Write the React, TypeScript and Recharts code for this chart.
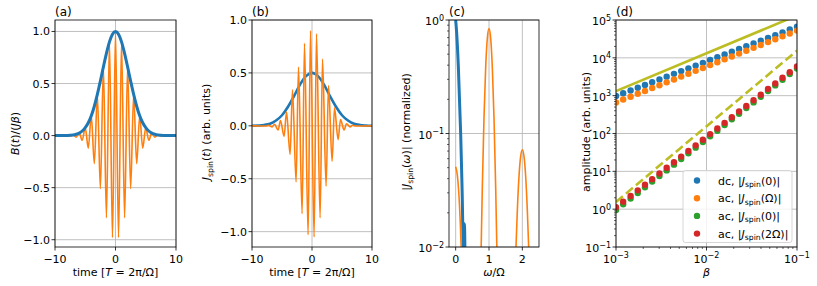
import React from 'react';
import { ComposedChart, Line, Scatter, XAxis, YAxis, CartesianGrid } from 'recharts';

const W = 817;
const H = 286;
const FONT = '"DejaVu Sans", "Liberation Sans", sans-serif';

const BLUE = '#1f77b4';
const ORANGE = '#ff7f0e';
const GREEN = '#2ca02c';
const RED = '#d62728';
const OLIVE = '#bcbd22';
const GRID = '#b0b0b0';

// shared plot geometry
const TOP = 20;
const BOTTOM = 247;
const YW = 50;
const PAD_R = 15;
const XH = 25;
const TICK = 3.5;
const GAP = 1.5;

// (a) B(t)/(J beta): envelope and ac field
const aEnvT = [-10, -9, -8, -7, -6.5, -6, -5.5, -5, -4.5, -4, -3.5, -3, -2.5, -2, -1.5, -1, -0.5, 0, 0.5, 1, 1.5, 2, 2.5, 3, 3.5, 4, 4.5, 5, 5.5, 6, 6.5, 7, 8, 9, 10];
const aEnvV = [0, 0.0002, 0.001, 0.006, 0.013, 0.024, 0.044, 0.076, 0.123, 0.19, 0.282, 0.395, 0.524, 0.66, 0.79, 0.9, 0.974, 1, 0.974, 0.9, 0.79, 0.66, 0.524, 0.395, 0.282, 0.19, 0.123, 0.076, 0.044, 0.024, 0.013, 0.006, 0.001, 0.0002, 0];
const aAcT = [-10, -8, -7.5, -7, -6.5, -6, -5.5, -5, -4.5, -4, -3.5, -3, -2.5, -2, -1.5, -1, -0.5, 0, 0.5, 1, 1.5, 2, 2.5, 3, 3.5, 4, 4.5, 5, 5.5, 6, 6.5, 7, 7.5, 8, 10];
const aAcV = [0, 0, -0.003, 0.006, -0.015, 0.024, -0.045, 0.076, -0.12, 0.19, -0.27, 0.395, -0.51, 0.66, -0.79, 0.9, -0.98, 1, -0.98, 0.9, -0.79, 0.66, -0.51, 0.395, -0.27, 0.19, -0.12, 0.076, -0.045, 0.024, -0.015, 0.006, -0.003, 0, 0];
const aTicksX = [-10, 0, 10];
const aTicksY = [-1, -0.5, 0, 0.5, 1];

// (b) J_spin(t)
const bDcT = [-10, -9, -8, -7, -6, -5, -4, -3, -2, -1, 0, 1, 2, 3, 4, 5, 6, 7, 8, 9, 10];
const bDcV = [0, 0.003, 0.008, 0.02, 0.05, 0.1, 0.18, 0.28, 0.39, 0.47, 0.5, 0.47, 0.39, 0.28, 0.18, 0.1, 0.05, 0.02, 0.008, 0.003, 0];
const bAcT = [-10, -7.65, -7.25, -6.65, -6.25, -5.65, -5.25, -4.65, -4.25, -3.65, -3.25, -2.65, -2.25, -1.65, -1.25, -0.65, -0.25, 0.35, 0.75, 1.35, 1.75, 2.35, 2.75, 3.35, 3.75, 4.35, 4.75, 5.35, 5.75, 6.35, 6.75, 7.35, 10];
const bAcV = [0, -0.002, 0.004, -0.01, 0.015, -0.04, 0.05, -0.1, 0.13, -0.27, 0.34, -0.53, 0.555, -0.83, 0.78, -1.03, 0.9, -1.05, 0.87, -0.87, 0.63, -0.57, 0.38, -0.335, 0.17, -0.13, 0.06, -0.04, 0.02, -0.01, 0.005, -0.002, 0];

// (c) |J_spin(omega)| normalized
const cDcW = [0, 0.03, 0.08, 0.15, 0.19, 0.22, 0.235, 0.25, 0.262, 0.275, 0.29];
const cDcV = [1, 0.77, 0.39, 0.1, 0.035, 0.012, 0.005, 0.008, 0.016, 0.011, 0.003];
const cAcW = [0, 0.05, 0.1, 0.14, 0.17, 0.2, 0.5, 0.74, 0.765, 0.8, 0.85, 0.9, 0.95, 1, 1.05, 1.1, 1.15, 1.2, 1.235, 1.26, 1.5, 1.78, 1.81, 1.85, 1.9, 1.95, 2, 2.05, 2.1, 2.15, 2.19, 2.22, 2.5];
const cAcV = [0.051, 0.043, 0.028, 0.016, 0.009, 0.004, 0.001, 0.0037, 0.01, 0.034, 0.138, 0.38, 0.69, 0.84, 0.69, 0.38, 0.138, 0.034, 0.01, 0.0037, 0.001, 0.005, 0.01, 0.021, 0.042, 0.063, 0.072, 0.063, 0.042, 0.021, 0.01, 0.005, 0.001];
const cTicksX = [0, 1, 2];
const cTicksY = [0.01, 0.1, 1];

// (d) amplitudes vs beta
const dBeta = [0.001, 0.0012, 0.00145, 0.00174, 0.00209, 0.00251, 0.00302, 0.00363, 0.00437, 0.00525, 0.00631, 0.00759, 0.00912, 0.01096, 0.01318, 0.01585, 0.01905, 0.02291, 0.02754, 0.03311, 0.03981, 0.04786, 0.05754, 0.06918, 0.08318, 0.1];
const dDcJ0 = [980, 1160, 1370, 1620, 1920, 2270, 2690, 3180, 3770, 4460, 5270, 6240, 7380, 8750, 10350, 12240, 14490, 17140, 20320, 24040, 28440, 33650, 39810, 47210, 55850, 66070];
const dAcJW = [660, 790, 940, 1120, 1330, 1590, 1890, 2250, 2680, 3190, 3800, 4530, 5400, 6430, 7660, 9120, 10860, 12940, 15420, 18370, 21880, 26060, 31050, 36980, 44060, 52480];
const dAcJ0 = [0.95, 1.35, 1.9, 2.68, 3.79, 5.35, 7.55, 10.6, 15, 21.2, 29.9, 42.3, 59.6, 84.1, 118.6, 167.5, 236.6, 333, 471, 664, 938, 1324, 1866, 2636, 3715, 5248];
const dAcJ2W = [1.12, 1.58, 2.23, 3.14, 4.42, 6.22, 8.77, 12.4, 17.4, 24.5, 34.5, 48.6, 68.5, 96.4, 136, 191, 270, 380, 535, 754, 1062, 1496, 2108, 2967, 4178, 5888];
const dFitB = [0.001, 0.1];
const dFitLin = [1320, 132000];
const dFitQuad = [1.55, 15500];
const dTicksX = [0.001, 0.01, 0.1];
const dTicksY = [0.1, 1, 10, 100, 1000, 10000, 100000];

const xy = (xs: number[], ys: number[]) => xs.map((x, i) => ({ x, y: ys[i] }));
const bv = (ys: number[]) => dBeta.map((b, i) => ({ b, v: ys[i] }));

// unlabeled 2..9 ticks in each decade
const minors = (lo: number, hi: number) => {
  const out: number[] = [];
  for (let e = lo; e < hi; e++) for (let m = 2; m <= 9; m++) out.push(m * Math.pow(10, e));
  return out;
};

const fmtInt = (v: number) => (v < 0 ? `−${-v}` : `${v}`);
const fmt1 = (v: number) => (v < 0 ? '−' : '') + Math.abs(v).toFixed(1);
const fmtPow = (v: number) => {
  const e = Math.round(Math.log10(v));
  return (
    <>
      <tspan>10</tspan>
      <tspan fontSize={8} dy={-4.5}>{e < 0 ? `−${-e}` : `${e}`}</tspan>
    </>
  );
};

function tickFn(side: 'left' | 'bottom', majors: number[], label: (v: number) => React.ReactNode, isLog = false) {
  return (p: any) => {
    const v = Number(p.payload?.value);
    const major = majors.some((m) => Math.abs(m - v) <= Math.abs(m) * 1e-6 + 1e-12);
    const len = major ? TICK : 2;
    const sw = major ? 0.8 : 0.6;
    if (side === 'left') {
      const ax = p.x + GAP + TICK;
      return (
        <g>
          <line x1={ax - len} x2={ax} y1={p.y} y2={p.y} stroke="#000" strokeWidth={sw} />
          {major && (
            <text x={p.x} y={p.y + (isLog ? 5 : 4)} textAnchor="end" fontSize={11} fontFamily={FONT} fill="#000">
              {label(v)}
            </text>
          )}
        </g>
      );
    }
    const ay = p.y - GAP - TICK;
    return (
      <g>
        <line x1={p.x} x2={p.x} y1={ay} y2={ay + len} stroke="#000" strokeWidth={sw} />
        {major && (
          <text x={p.x} y={p.y + 10.5} textAnchor="middle" fontSize={11} fontFamily={FONT} fill="#000">
            {label(v)}
          </text>
        )}
      </g>
    );
  };
}

const axisCommon = {
  tickSize: TICK,
  tickMargin: GAP,
  tickLine: false,
  axisLine: false,
  interval: 0 as const,
  allowDataOverflow: true,
};

const lineCommon = {
  dot: false,
  activeDot: false,
  isAnimationActive: false,
};

const boxes = [
  { x0: 55, x1: 176 },
  { x0: 252, x1: 372 },
  { x0: 449, x1: 539 },
  { x0: 616, x1: 797 },
];

function frame(i: number) {
  const { x0, x1 } = boxes[i];
  return {
    style: { position: 'absolute' as const, left: x0 - YW, top: 0 },
    width: x1 - x0 + YW + PAD_R,
    margin: { top: TOP, right: PAD_R, bottom: H - BOTTOM - XH, left: 0 },
  };
}

const legendRows = [
  { color: BLUE, head: 'dc', arg: '0' },
  { color: ORANGE, head: 'ac', arg: 'Ω' },
  { color: GREEN, head: 'ac', arg: '0' },
  { color: RED, head: 'ac', arg: '2Ω' },
];

const dot = (color: string) => (p: any) => <circle cx={p.cx} cy={p.cy} r={3.2} fill={color} />;

export default function App() {
  const fa = frame(0);
  const fb = frame(1);
  const fc = frame(2);
  const fd = frame(3);
  return (
    <div style={{ position: 'absolute', left: 0, top: 0, width: W, height: H, background: '#fff', fontFamily: FONT }}>
      {/* (a) */}
      <div style={fa.style}>
        <ComposedChart width={fa.width} height={H} margin={fa.margin}>
          <CartesianGrid stroke={GRID} strokeWidth={0.8} horizontalValues={aTicksY} verticalValues={aTicksX} />
          <XAxis type="number" dataKey="x" domain={[-10, 10]} ticks={aTicksX} height={XH} {...axisCommon} tick={tickFn('bottom', aTicksX, fmtInt)} />
          <YAxis type="number" domain={[-1.07, 1.11]} ticks={aTicksY} width={YW} {...axisCommon} tick={tickFn('left', aTicksY, fmt1)} />
          <Line data={xy(aAcT, aAcV)} dataKey="y" type="monotone" stroke={ORANGE} strokeWidth={1.6} {...lineCommon} />
          <Line data={xy(aEnvT, aEnvV)} dataKey="y" type="monotone" stroke={BLUE} strokeWidth={3} {...lineCommon} />
        </ComposedChart>
      </div>

      {/* (b) */}
      <div style={fb.style}>
        <ComposedChart width={fb.width} height={H} margin={fb.margin}>
          <CartesianGrid stroke={GRID} strokeWidth={0.8} horizontalValues={aTicksY} verticalValues={aTicksX} />
          <XAxis type="number" dataKey="x" domain={[-10, 10]} ticks={aTicksX} height={XH} {...axisCommon} tick={tickFn('bottom', aTicksX, fmtInt)} />
          <YAxis type="number" domain={[-1.145, 1.0]} ticks={aTicksY} width={YW} {...axisCommon} tick={tickFn('left', aTicksY, fmt1)} />
          <Line data={xy(bDcT, bDcV)} dataKey="y" type="monotone" stroke={BLUE} strokeWidth={2.6} {...lineCommon} />
          <Line data={xy(bAcT, bAcV)} dataKey="y" type="monotone" stroke={ORANGE} strokeWidth={1.6} {...lineCommon} />
        </ComposedChart>
      </div>

      {/* (c) */}
      <div style={fc.style}>
        <ComposedChart width={fc.width} height={H} margin={fc.margin}>
          <CartesianGrid stroke={GRID} strokeWidth={0.8} horizontalValues={cTicksY} verticalValues={cTicksX} />
          <XAxis type="number" dataKey="x" domain={[-0.2, 2.5]} ticks={cTicksX} height={XH} {...axisCommon} tick={tickFn('bottom', cTicksX, fmtInt)} />
          <YAxis type="number" scale="log" domain={[0.01, 1]} ticks={[...cTicksY, ...minors(-2, 0)]} width={YW} {...axisCommon} tick={tickFn('left', cTicksY, fmtPow, true)} />
          <Line data={xy(cDcW, cDcV)} dataKey="y" type="monotone" stroke={BLUE} strokeWidth={3} {...lineCommon} />
          <Line data={xy(cAcW, cAcV)} dataKey="y" type="monotone" stroke={ORANGE} strokeWidth={1.6} {...lineCommon} />
        </ComposedChart>
      </div>

      {/* (d) */}
      <div style={fd.style}>
        <ComposedChart width={fd.width} height={H} margin={fd.margin}>
          <CartesianGrid stroke={GRID} strokeWidth={0.8} horizontalValues={dTicksY} verticalValues={dTicksX} />
          <XAxis type="number" dataKey="b" scale="log" domain={[0.001, 0.1]} ticks={[...dTicksX, ...minors(-3, -1)]} height={XH} {...axisCommon} tick={tickFn('bottom', dTicksX, fmtPow, true)} />
          <YAxis type="number" dataKey="v" scale="log" domain={[0.1, 100000]} ticks={[...dTicksY, ...minors(-1, 5)]} width={YW} {...axisCommon} tick={tickFn('left', dTicksY, fmtPow, true)} />
          <Line data={dFitB.map((b, i) => ({ b, v: dFitLin[i] }))} dataKey="v" type="linear" stroke={OLIVE} strokeWidth={2.6} {...lineCommon} />
          <Line data={dFitB.map((b, i) => ({ b, v: dFitQuad[i] }))} dataKey="v" type="linear" stroke={OLIVE} strokeWidth={2.6} strokeDasharray="9 4" {...lineCommon} />
          <Scatter data={bv(dDcJ0)} dataKey="v" shape={dot(BLUE)} isAnimationActive={false} />
          <Scatter data={bv(dAcJW)} dataKey="v" shape={dot(ORANGE)} isAnimationActive={false} />
          <Scatter data={bv(dAcJ0)} dataKey="v" shape={dot(GREEN)} isAnimationActive={false} />
          <Scatter data={bv(dAcJ2W)} dataKey="v" shape={dot(RED)} isAnimationActive={false} />
        </ComposedChart>
      </div>

      {/* frames, labels, legend */}
      <svg width={W} height={H} style={{ position: 'absolute', left: 0, top: 0, pointerEvents: 'none' }} fontFamily={FONT} fill="#000">
        {boxes.map((b, i) => (
          <rect key={i} x={b.x0} y={TOP} width={b.x1 - b.x0} height={BOTTOM - TOP} fill="none" stroke="#000" strokeWidth={0.8} />
        ))}

        <text x={55} y={16} fontSize={12}>(a)</text>
        <text x={252} y={16} fontSize={12}>(b)</text>
        <text x={449} y={16} fontSize={12}>(c)</text>
        <text x={616} y={16} fontSize={12}>(d)</text>

        {/* x labels */}
        <text x={115.5} y={275.5} fontSize={11} textAnchor="middle">
          time [<tspan fontStyle="italic">T</tspan> = 2π/Ω]
        </text>
        <text x={312} y={275.5} fontSize={11} textAnchor="middle">
          time [<tspan fontStyle="italic">T</tspan> = 2π/Ω]
        </text>
        <text x={494} y={275.5} fontSize={11} textAnchor="middle">
          <tspan fontStyle="italic">ω</tspan>/Ω
        </text>
        <text x={706.5} y={275.5} fontSize={11} textAnchor="middle" fontStyle="italic">β</text>

        {/* y labels */}
        <text transform="translate(18.5,133.5) rotate(-90)" fontSize={11} textAnchor="middle">
          <tspan fontStyle="italic">B</tspan>(<tspan fontStyle="italic">t</tspan>)/(<tspan fontStyle="italic">Jβ</tspan>)
        </text>
        <text transform="translate(210,132) rotate(-90)" fontSize={11} textAnchor="middle">
          <tspan fontStyle="italic">J</tspan>
          <tspan fontSize={7.7} dy={2.5}>spin</tspan>
          <tspan dy={-2.5}>(</tspan>
          <tspan fontStyle="italic">t</tspan>
          <tspan>) (arb. units)</tspan>
        </text>
        <text transform="translate(410,132) rotate(-90)" fontSize={11} textAnchor="middle">
          <tspan>|</tspan>
          <tspan fontStyle="italic">J</tspan>
          <tspan fontSize={7.7} dy={2.5}>spin</tspan>
          <tspan dy={-2.5}>(</tspan>
          <tspan fontStyle="italic">ω</tspan>
          <tspan>)| (normalized)</tspan>
        </text>
        <text transform="translate(589.5,132) rotate(-90)" fontSize={11} textAnchor="middle">
          amplitude (arb. units)
        </text>

        {/* legend */}
        <rect x={683} y={170.5} width={109} height={72} rx={2.5} fill="#fff" fillOpacity={0.8} stroke="#cccccc" strokeWidth={0.8} />
        {legendRows.map((r, i) => {
          const cy = 180.5 + i * 17.7;
          return (
            <g key={i}>
              <circle cx={697} cy={cy} r={3.2} fill={r.color} />
              <text x={718} y={cy + 4} fontSize={11}>
                <tspan>{r.head}, |</tspan>
                <tspan fontStyle="italic">J</tspan>
                <tspan fontSize={7.7} dy={2.5}>spin</tspan>
                <tspan dy={-2.5}>({r.arg})|</tspan>
              </text>
            </g>
          );
        })}
      </svg>
    </div>
  );
}
